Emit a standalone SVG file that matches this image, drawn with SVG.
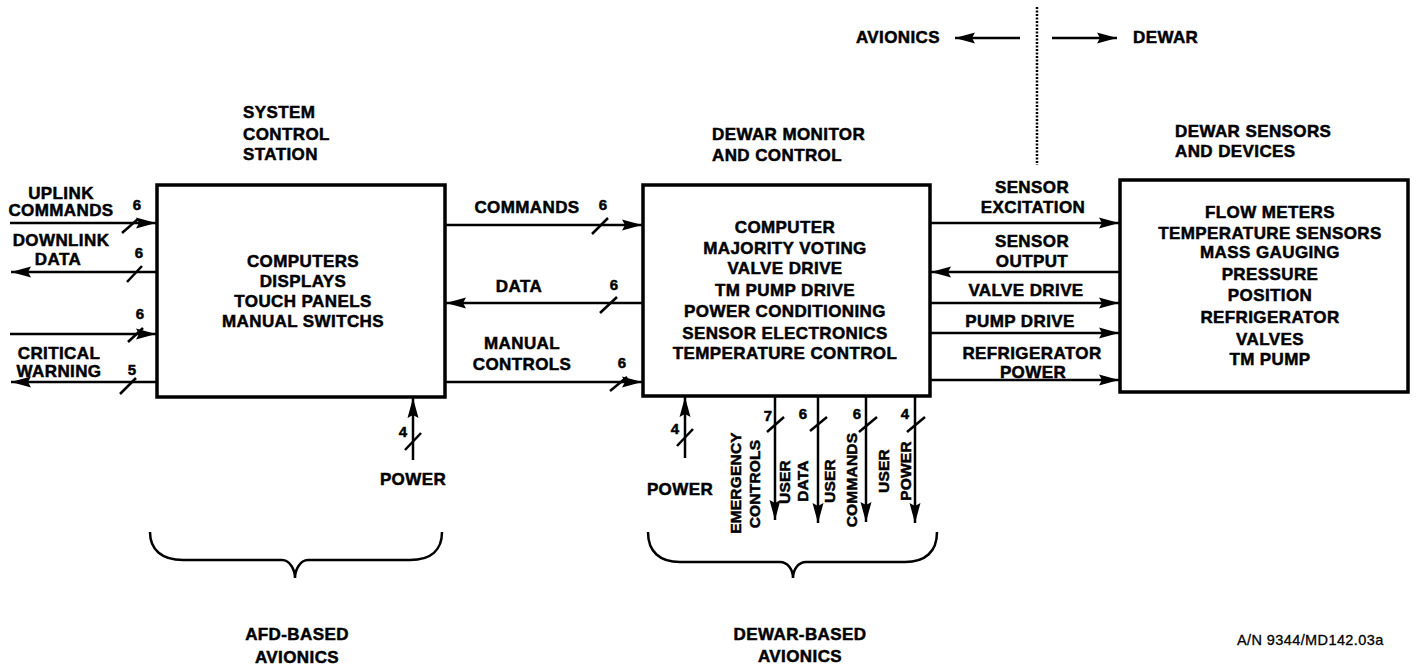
<svg xmlns="http://www.w3.org/2000/svg" width="1417" height="666" viewBox="0 0 1417 666">
<style>
text{font-family:"Liberation Sans",Arial,sans-serif;font-weight:bold;fill:#000;stroke:#000;stroke-width:0.5}
.t{font-size:17px;letter-spacing:0.4px}
.c{text-anchor:middle}
.n{font-size:15px;text-anchor:middle}
.v{font-size:15.5px;text-anchor:middle;letter-spacing:0.2px}
.an{font-size:14.5px;font-weight:normal;letter-spacing:0.4px;stroke-width:0.3}
.box{fill:#fff;stroke:#000;stroke-width:3.5}
.ln{stroke:#000;stroke-width:2.5;fill:none}
.ar{stroke:#000;stroke-width:2.5;fill:none;marker-end:url(#ah)}
.sl{stroke:#000;stroke-width:2.5}
.br{stroke:#000;stroke-width:2.5;fill:none}
</style>
<defs>
<marker id="ah" markerUnits="userSpaceOnUse" markerWidth="22" markerHeight="12" refX="20" refY="6" orient="auto">
<path d="M0,0.5 L20,6 L0,11.5 L3,6 z" fill="#000"/>
</marker>
</defs>
<rect width="1417" height="666" fill="#fff"/>

<g id="scs">
<rect class="box" x="157" y="185" width="288" height="212"/>
<text class="t" x="243" y="118">SYSTEM</text>
<text class="t" x="243" y="140">CONTROL</text>
<text class="t" x="243" y="160">STATION</text>
<text class="t c" x="303" y="267">COMPUTERS</text>
<text class="t c" x="303" y="287">DISPLAYS</text>
<text class="t c" x="303" y="307">TOUCH PANELS</text>
<text class="t c" x="303" y="327">MANUAL SWITCHS</text>
</g>

<g id="dmc">
<rect class="box" x="643" y="185" width="287" height="211"/>
<text class="t" x="712" y="140">DEWAR MONITOR</text>
<text class="t" x="712" y="161">AND CONTROL</text>
<text class="t c" x="785" y="233">COMPUTER</text>
<text class="t c" x="785" y="254">MAJORITY VOTING</text>
<text class="t c" x="785" y="274">VALVE DRIVE</text>
<text class="t c" x="785" y="296">TM PUMP DRIVE</text>
<text class="t c" x="785" y="317">POWER CONDITIONING</text>
<text class="t c" x="785" y="339">SENSOR ELECTRONICS</text>
<text class="t c" x="785" y="359">TEMPERATURE CONTROL</text>
</g>

<g id="dsd">
<rect class="box" x="1120" y="180" width="288" height="212"/>
<text class="t" x="1175" y="137">DEWAR SENSORS</text>
<text class="t" x="1175" y="157">AND DEVICES</text>
<text class="t c" x="1270" y="218">FLOW METERS</text>
<text class="t c" x="1270" y="239">TEMPERATURE SENSORS</text>
<text class="t c" x="1270" y="258">MASS GAUGING</text>
<text class="t c" x="1270" y="280">PRESSURE</text>
<text class="t c" x="1270" y="301">POSITION</text>
<text class="t c" x="1270" y="323">REFRIGERATOR</text>
<text class="t c" x="1270" y="345">VALVES</text>
<text class="t c" x="1270" y="365">TM PUMP</text>
</g>

<g id="connectors">
<line class="ar" x1="10" y1="223" x2="156" y2="223"/>
<line class="sl" x1="122" y1="233" x2="138" y2="219"/>
<text class="n" x="137" y="210">6</text>
<line class="ar" x1="157" y1="272" x2="11" y2="272"/>
<line class="sl" x1="127" y1="282" x2="142" y2="266"/>
<text class="n" x="139" y="258">6</text>
<line class="ar" x1="10" y1="334" x2="156" y2="334"/>
<line class="sl" x1="128" y1="342" x2="143" y2="328"/>
<text class="n" x="140" y="319">6</text>
<line class="ar" x1="157" y1="382" x2="11" y2="382"/>
<line class="sl" x1="120" y1="394" x2="136" y2="378"/>
<text class="n" x="132" y="375">5</text>
<text class="t c" x="61" y="199">UPLINK</text>
<text class="t c" x="61" y="216">COMMANDS</text>
<text class="t c" x="61" y="246">DOWNLINK</text>
<text class="t c" x="58" y="265">DATA</text>
<text class="t c" x="59" y="359">CRITICAL</text>
<text class="t c" x="59" y="377">WARNING</text>

<line class="ar" x1="445" y1="225" x2="642" y2="225"/>
<line class="sl" x1="592" y1="234" x2="608" y2="218"/>
<text class="n" x="603" y="210">6</text>
<text class="t c" x="527" y="213">COMMANDS</text>
<line class="ar" x1="643" y1="303" x2="446" y2="303"/>
<line class="sl" x1="600" y1="313" x2="617" y2="297"/>
<text class="n" x="614" y="290">6</text>
<text class="t c" x="519" y="292">DATA</text>
<line class="ar" x1="445" y1="382" x2="642" y2="382"/>
<line class="sl" x1="610" y1="391" x2="627" y2="377"/>
<text class="n" x="622" y="368">6</text>
<text class="t c" x="522" y="349">MANUAL</text>
<text class="t c" x="522" y="370">CONTROLS</text>

<line class="ar" x1="413" y1="460" x2="413" y2="398"/>
<line class="sl" x1="405" y1="450" x2="421" y2="433"/>
<text class="n" x="403" y="437">4</text>
<text class="t c" x="413" y="485">POWER</text>

<line class="ar" x1="685" y1="458" x2="685" y2="397"/>
<line class="sl" x1="677" y1="446" x2="693" y2="429"/>
<text class="n" x="675" y="434">4</text>
<text class="t c" x="680" y="495">POWER</text>

<line class="ar" x1="775" y1="396" x2="775" y2="520"/>
<line class="sl" x1="767" y1="432" x2="784" y2="417"/>
<text class="n" x="768" y="421">7</text>
<line class="ar" x1="818" y1="396" x2="818" y2="523"/>
<line class="sl" x1="810" y1="431" x2="827" y2="417"/>
<text class="n" x="803" y="419">6</text>
<line class="ar" x1="866" y1="396" x2="866" y2="522"/>
<line class="sl" x1="859" y1="432" x2="877" y2="417"/>
<text class="n" x="857" y="419">6</text>
<line class="ar" x1="915" y1="396" x2="915" y2="523"/>
<line class="sl" x1="907" y1="432" x2="925" y2="417"/>
<text class="n" x="905" y="419">4</text>
<text class="v" transform="translate(741,483) rotate(-90)">EMERGENCY</text>
<text class="v" transform="translate(760,484) rotate(-90)">CONTROLS</text>
<text class="v" transform="translate(790,482) rotate(-90)">USER</text>
<text class="v" transform="translate(808,481) rotate(-90)">DATA</text>
<text class="v" transform="translate(835,481) rotate(-90)">USER</text>
<text class="v" transform="translate(857,480) rotate(-90)">COMMANDS</text>
<text class="v" transform="translate(889,471) rotate(-90)">USER</text>
<text class="v" transform="translate(911,471) rotate(-90)">POWER</text>

<line class="ar" x1="930" y1="223" x2="1119" y2="223"/>
<text class="t c" x="1032" y="193">SENSOR</text>
<text class="t c" x="1033" y="213">EXCITATION</text>
<line class="ar" x1="1120" y1="272" x2="931" y2="272"/>
<text class="t c" x="1032" y="247">SENSOR</text>
<text class="t c" x="1032" y="267">OUTPUT</text>
<line class="ar" x1="930" y1="303" x2="1119" y2="303"/>
<text class="t c" x="1026" y="296">VALVE DRIVE</text>
<line class="ar" x1="930" y1="333" x2="1119" y2="333"/>
<text class="t c" x="1020" y="327">PUMP DRIVE</text>
<line class="ar" x1="930" y1="380" x2="1119" y2="380"/>
<text class="t c" x="1032" y="359">REFRIGERATOR</text>
<text class="t c" x="1033" y="378">POWER</text>

<line x1="1037" y1="7" x2="1037" y2="165" stroke="#000" stroke-width="2.5" stroke-dasharray="2 1.5"/>
<line class="ar" x1="1020" y1="38" x2="955" y2="38"/>
<line class="ar" x1="1052" y1="38" x2="1117" y2="38"/>
<text class="t" x="940" y="43" text-anchor="end">AVIONICS</text>
<text class="t" x="1133" y="43">DEWAR</text>
</g>

<g id="afd-brace">
<path class="br" d="M150,532 C150,550 162,560 183,560 L282,560 C290,560 295,570 295,578 C295,570 300,560 308,560 L410,560 C431,560 442,550 442,532"/>
<text class="t c" x="297" y="640">AFD-BASED</text>
<text class="t c" x="297" y="663">AVIONICS</text>
</g>

<g id="dewar-brace">
<path class="br" d="M648,532 C648,552 660,562 680,562 L780,562 C788,562 793,570 793,578 C793,570 798,562 806,562 L905,562 C925,562 937,552 937,532"/>
<text class="t c" x="800" y="640">DEWAR-BASED</text>
<text class="t c" x="800" y="662">AVIONICS</text>
</g>

<g id="ref">
<text class="an" x="1237" y="645">A/N 9344/MD142.03a</text>
</g>
</svg>
